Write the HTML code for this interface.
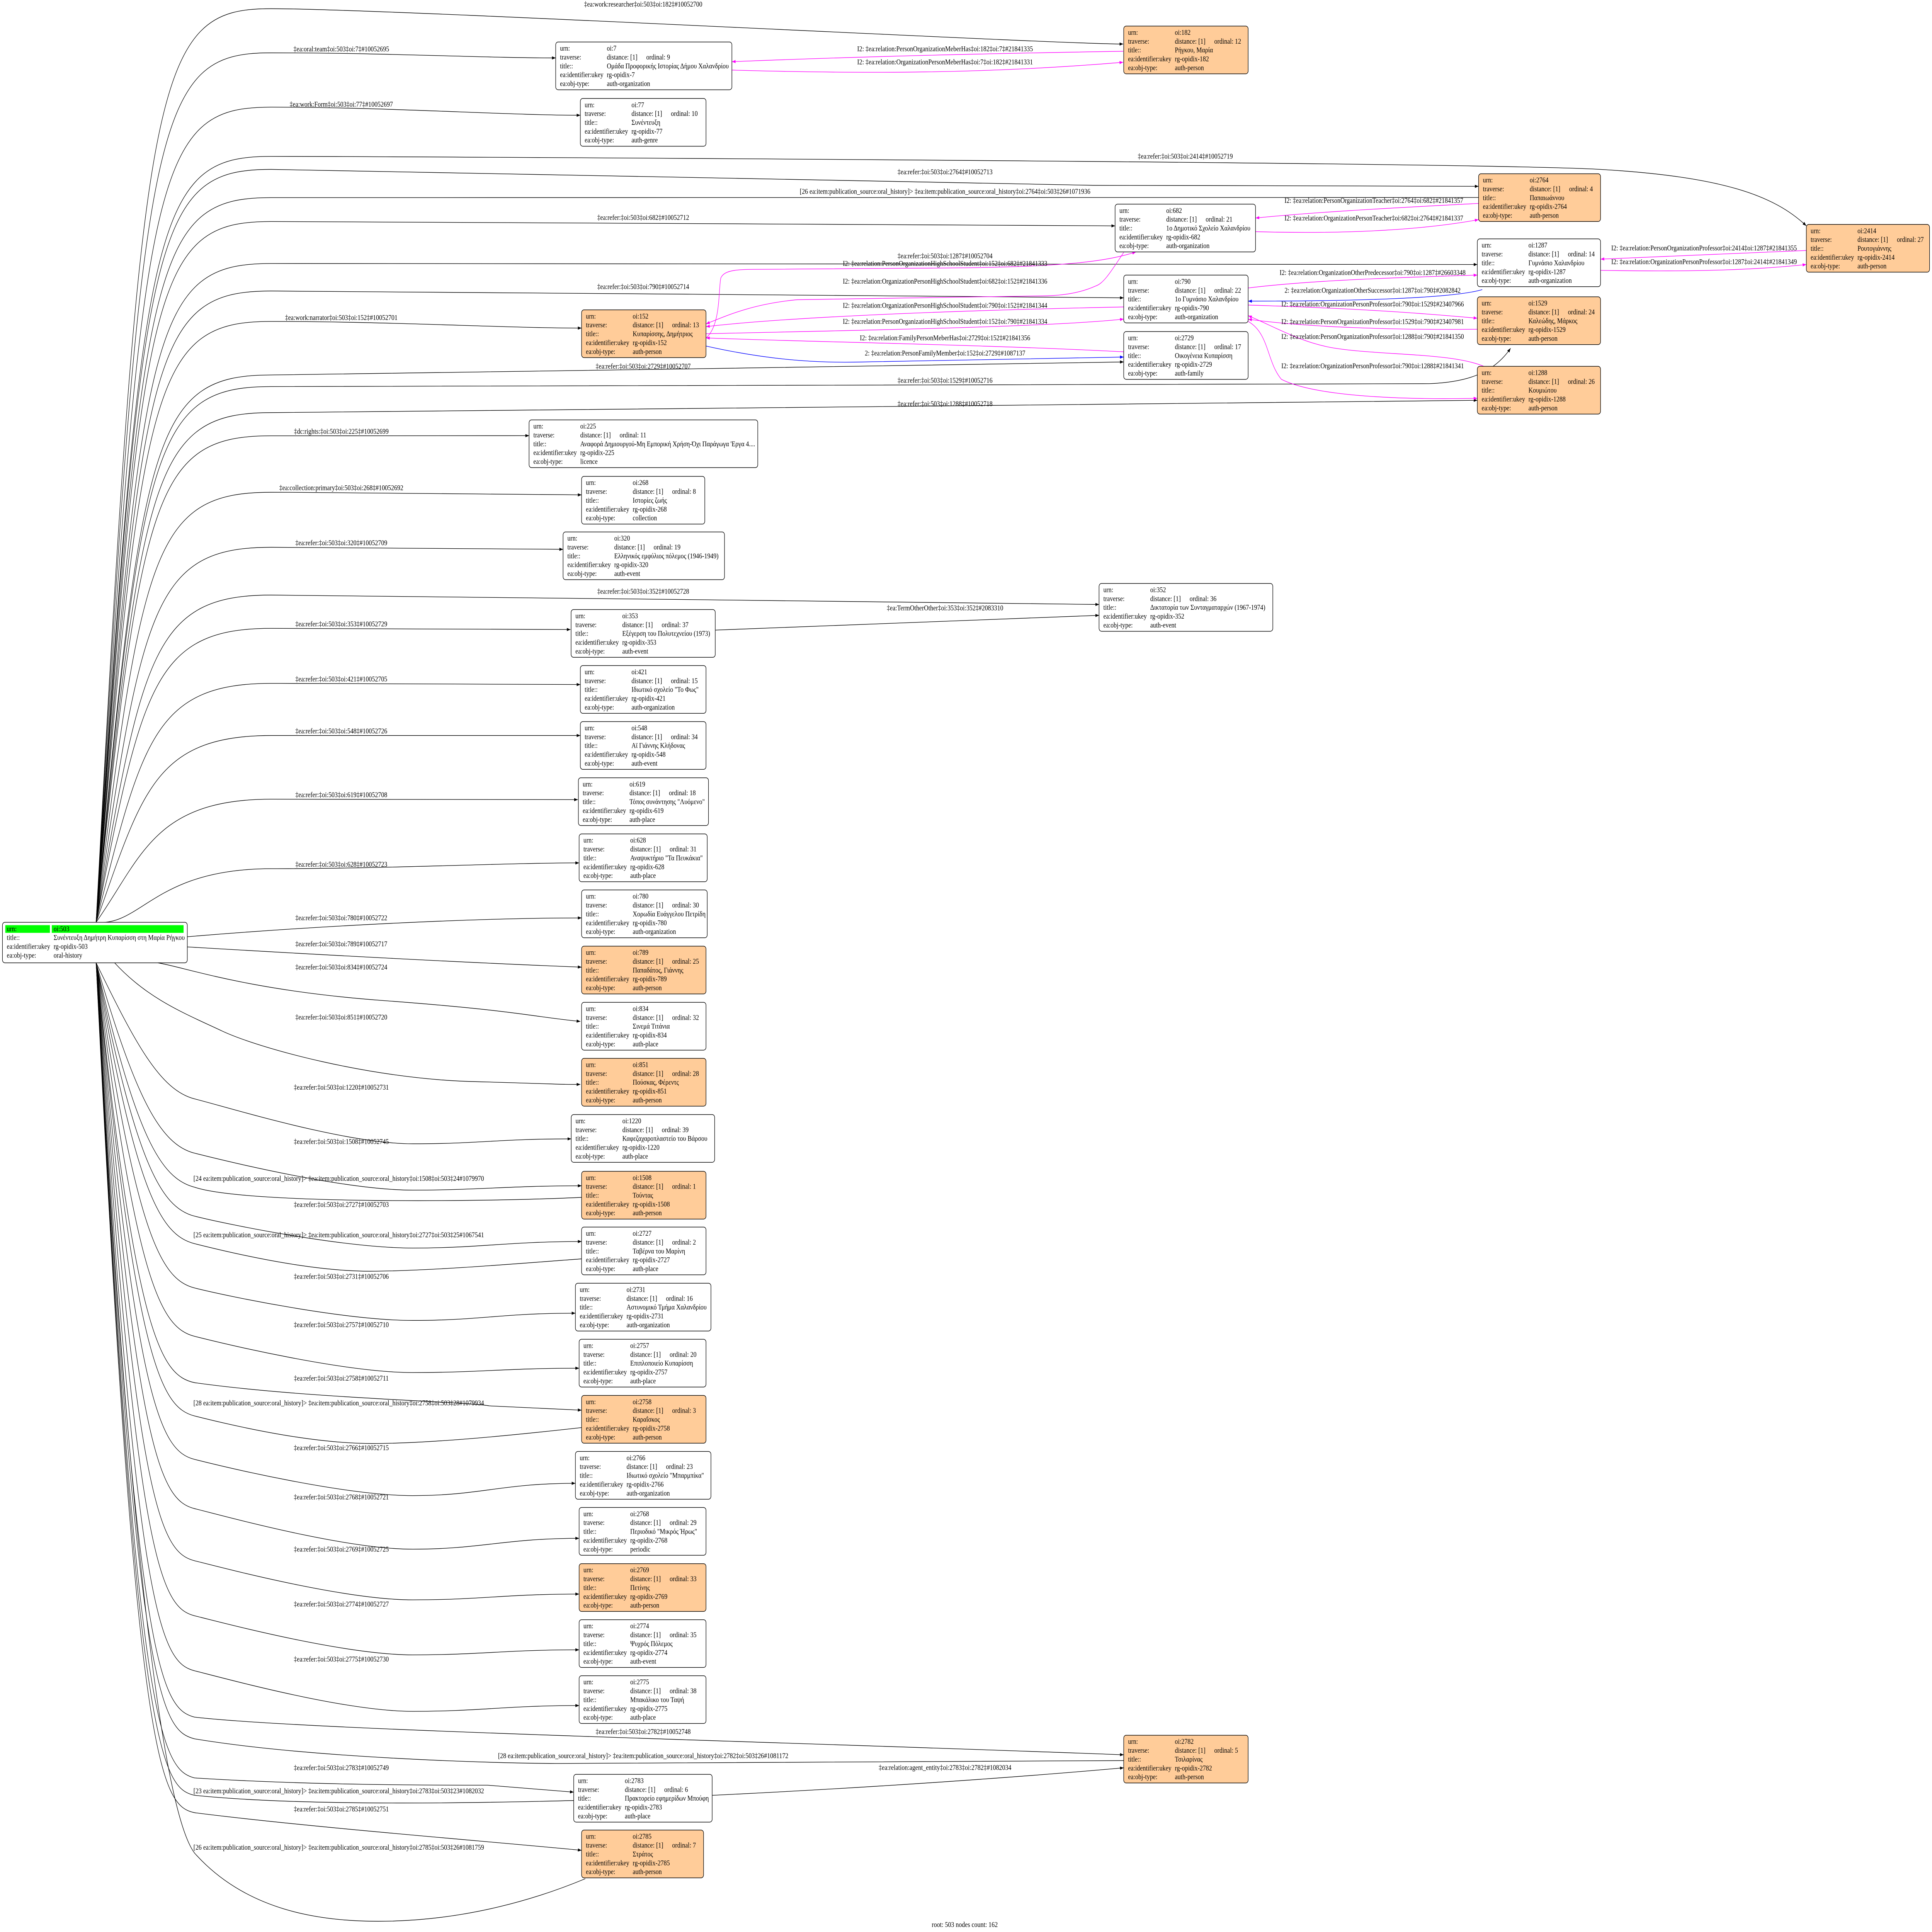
<!DOCTYPE html>
<html><head><meta charset="utf-8"><style>
html,body{margin:0;padding:0;background:#fff;overflow:hidden;width:100vw;height:100vh}
svg{display:block;width:100vw;height:100vh}
text{font-family:"Liberation Serif","DejaVu Serif",serif;font-size:5px;fill:#000}
.w{fill:#fff;stroke:#000;stroke-width:.4}
.o{fill:#ffcc99;stroke:#000;stroke-width:.4}
.e{fill:none;stroke:#000;stroke-width:.38}
.m{fill:none;stroke:#ff00ff;stroke-width:.38}
.b{fill:none;stroke:#0000ff;stroke-width:.38}
.c{text-anchor:middle}
</style></head><body>
<svg viewBox="0 0 1568 1334.4" preserveAspectRatio="none" xmlns="http://www.w3.org/2000/svg">
<defs>
<marker id="ab" markerUnits="userSpaceOnUse" markerWidth="3" markerHeight="2.2" refX="3" refY="1.1" orient="auto"><path d="M0,0L3,1.1L0,2.2z" fill="#000"/></marker>
<marker id="am" markerUnits="userSpaceOnUse" markerWidth="3" markerHeight="2.2" refX="3" refY="1.1" orient="auto"><path d="M0,0L3,1.1L0,2.2z" fill="#ff00ff"/></marker>
<marker id="al" markerUnits="userSpaceOnUse" markerWidth="3" markerHeight="2.2" refX="3" refY="1.1" orient="auto"><path d="M0,0L3,1.1L0,2.2z" fill="#0000ff"/></marker>
</defs>
<rect width="1568" height="1334.4" fill="#fff"/>

<g class="e" marker-end="url(#ab)">
<path class="e" d="M78,637 C115,46 125,6 220,6 S852,30.4 911.6,30.4"/>
<path class="e" d="M78,637 C115,76.5 125,36.5 220,36.5 S391,40 451,40"/>
<path class="e" d="M78,637 C115,114 125,74 220,74 S411,79.6 471,79.6"/>
<path class="e" d="M78,637 C115,148 125,108 220,108 S1200,112 1299,117 S1440,135 1466,156"/>
<path class="e" d="M78,637 C115,157 125,117 220,117 S800,128 887,128 S1150,128.7 1200,128.7"/>
<path class="e" d="M78,637 C115,193 125,153 220,153 S845,156 905,156"/>
<path class="e" d="M78,637 C115,222 125,182 220,182 S1139,182.7 1199,182.7"/>
<path class="e" d="M78,637 C115,241 125,201 220,201 S852,205.7 912,205.7"/>
<path class="e" d="M78,637 C115,262 125,222 220,222 S412,226.6 472,226.6"/>
<path class="e" d="M78,637 C115,299 125,259 220,259 S852,250 912,250"/>
<path class="e" d="M78,637 C115,307 125,267 220,267 L1160,265 C1190,264 1212,258 1226,240.5"/>
<path class="e" d="M78,637 C115,325 125,285 220,285 S1139,276.5 1199,276.5"/>
<path class="e" d="M78,637 C115,341 125,301 220,301 S370,300.9 429.4,300.9"/>
<path class="e" d="M78,637 C115,380 125,340 220,340 S412,341.8 472,341.8"/>
<path class="e" d="M78,637 C115,418 125,378 220,378 S397,379.4 457,379.4"/>
<path class="e" d="M78,637 C115,451 125,411 220,411 S832,417.5 892,417.5"/>
<path class="e" d="M78,637 C115,474 125,434 220,434 S403,434.8 463,434.8"/>
<path class="e" d="M78,637 C115,512 125,472 220,472 S411,472.8 471,472.8"/>
<path class="e" d="M78,637 C115,548 125,508 220,508 S411,508 471,508"/>
<path class="e" d="M78,637 C115,592 125,552 220,552 S409,552.3 469,552.3"/>
<path class="e" d="M78,637 C115,640 125,600 220,600 S410,596 470,596"/>
<path class="e" d="M152,647 C250,640 380,634 472,634"/>
<path class="e" d="M152,654 C250,659 380,665 472,668"/>
<path class="e" d="M128,665 C150,668 200,684 310,691 S430,702 471,705.5"/>
<path class="e" d="M93,665 C120,690 150,700 180,712 S300,745 383,747 S450,749 471,749"/>
<path class="e" d="M78,665 C110,721 130,753 158,759 S280,790 335,790 S404,786.6 463.6,786.6"/>
<path class="e" d="M78,665 C110,758.5 130,790.5 158,796.5 S280,822 335,822 S412,819 472,819"/>
<path class="e" d="M78,665 C110,802 130,834 158,840 S280,862 335,862 S412,857.5 472,857.5"/>
<path class="e" d="M78,665 C110,851.6 130,883.6 158,889.6 S280,912 335,912 S407,907 467,907"/>
<path class="e" d="M78,665 C110,885 130,917 158,923 S280,948 335,948 S410,945 470,945"/>
<path class="e" d="M78,665 C110,922 130,950 158,955 C250,966 380,968 397,971 L472,974"/>
<path class="e" d="M78,665 C110,970 130,1002 158,1008 S280,1033 335,1033 S407,1024.5 467,1024.5"/>
<path class="e" d="M78,665 C110,1004 130,1036 158,1042 S280,1070 335,1070 S410,1062.5 470,1062.5"/>
<path class="e" d="M78,665 C110,1040 130,1072 158,1078 S280,1105 335,1105 S410,1101 470,1101"/>
<path class="e" d="M78,665 C110,1078 130,1110 158,1116 S280,1143 335,1143 S410,1139.5 470,1139.5"/>
<path class="e" d="M78,665 C110,1116 130,1148 158,1154 S280,1182 335,1182 S410,1178 470,1178"/>
<path class="e" d="M78,665 C110,1150 130,1180 158,1186 C250,1195 600,1202 912,1212"/>
<path class="e" d="M78,665 C110,1190 130,1222 158,1228 C250,1233 350,1233 395.7,1233 L465.6,1237.8"/>
<path class="e" d="M78,665 C110,1220 130,1247 158,1252 C250,1262 400,1272 472,1278"/>
<path class="e" d="M580.7,435.2 C700,432 800,428 892,425"/>
<path class="e" d="M578,1240 C700,1235 820,1228 912,1221"/>
</g>
<path class="e" d="M78,637 C115,176.5 125,136.5 220,136.5 L1200,136.4"/>
<path class="e" d="M78,665 C110,784 130,814 158,820 C200,832 400,830 472,827"/>
<path class="e" d="M78,665 C110,823 130,853 158,859 S250,878 300,878 S430,872 472,869.5"/>
<path class="e" d="M78,665 C110,939 130,972 158,978 S250,997 302,997 S430,990 472,986"/>
<path class="e" d="M78,665 C110,1170 130,1195 158,1201 C250,1214 400,1218 455,1218 L912,1216"/>
<path class="e" d="M78,665 C110,1205 130,1235 158,1240 C250,1248 400,1245 465.6,1243.6"/>
<path class="e" d="M78,665 C110,1150 140,1260 158,1280 C200,1320 260,1327 307,1327 C380,1327 440,1310 475,1297.6"/>

<g marker-end="url(#am)">
<path class="m" d="M911.6,35.4 C800,37 700,39 594,42.6"/>
<path class="m" d="M594,48.4 C700,51 800,51 911.6,43"/>
<path class="m" d="M1200,140.5 C1120,144 1060,147 1019,150.6"/>
<path class="m" d="M1019,160 C1100,162 1160,158 1200,151.7"/>
<path class="m" d="M573,233.4 C585,225 583,200 585,192 C588,186 600,186 620,186 L782,185 C870,184 900,180 922,174"/>
<path class="m" d="M912,174.3 C900,190 895,196 889,197.6 C875,203 860,204 850,204.3 L647,207 C610,210 590,218 573,223.7"/>
<path class="m" d="M912,212 C800,214 650,218 573,225.6"/>
<path class="m" d="M573,230.5 C700,228 850,226 912,220.4"/>
<path class="m" d="M912,243 C800,238 650,236 573,233.4"/>
<path class="m" d="M1466,173 C1400,175 1340,177 1299,179"/>
<path class="m" d="M1299,186.7 C1380,188 1430,186 1466,182.7"/>
<path class="m" d="M1013,198.9 C1060,194 1120,192 1199,190"/>
<path class="m" d="M1013,210.7 C1100,213 1150,216 1199,219.8"/>
<path class="m" d="M1199,227.4 C1130,228 1060,226 1013,220.5"/>
<path class="m" d="M1209,255 C1185,243 1120,246 1080,240 C1055,236 1035,226 1013,218"/>
<path class="m" d="M1013,222 C1030,230 1028,250 1040,262 C1070,275 1150,276 1199,275.1"/>
</g>
<g marker-end="url(#al)">
<path class="b" d="M573,239 C620,248 660,251 700,250 C800,248 860,247 912,246.6"/>
<path class="b" d="M1203,200 C1180,206 1100,208 1013,208"/>
</g>

<g>
<text class="c" x="522" y="4.5">‡ea:work:researcher‡oi:503‡oi:182‡#10052700</text>
<text class="c" x="277" y="35.5">‡ea:oral:team‡oi:503‡oi:7‡#10052695</text>
<text class="c" x="277" y="73.6">‡ea:work:Form‡oi:503‡oi:77‡#10052697</text>
<text class="c" x="962" y="109.5">‡ea:refer:‡oi:503‡oi:2414‡#10052719</text>
<text class="c" x="767" y="120.3">‡ea:refer:‡oi:503‡oi:2764‡#10052713</text>
<text class="c" x="767" y="133.9">[26 ea:item:publication_source:oral_history]&gt; ‡ea:item:publication_source:oral_history‡oi:2764‡oi:503‡26#1071936</text>
<text class="c" x="522" y="151.9">‡ea:refer:‡oi:503‡oi:682‡#10052712</text>
<text class="c" x="767" y="178.4">‡ea:refer:‡oi:503‡oi:1287‡#10052704</text>
<text class="c" x="522" y="199.6">‡ea:refer:‡oi:503‡oi:790‡#10052714</text>
<text class="c" x="277" y="221">‡ea:work:narrator‡oi:503‡oi:152‡#10052701</text>
<text class="c" x="522" y="254.6">‡ea:refer:‡oi:503‡oi:2729‡#10052707</text>
<text class="c" x="767" y="264.4">‡ea:refer:‡oi:503‡oi:1529‡#10052716</text>
<text class="c" x="767" y="280.5">‡ea:refer:‡oi:503‡oi:1288‡#10052718</text>
<text class="c" x="277" y="299.6">‡dc:rights:‡oi:503‡oi:225‡#10052699</text>
<text class="c" x="277" y="338.6">‡ea:collection:primary‡oi:503‡oi:268‡#10052692</text>
<text class="c" x="277" y="376.6">‡ea:refer:‡oi:503‡oi:320‡#10052709</text>
<text class="c" x="522" y="410">‡ea:refer:‡oi:503‡oi:352‡#10052728</text>
<text class="c" x="767" y="421.6">‡ea:TermOtherOther‡oi:353‡oi:352‡#2083310</text>
<text class="c" x="277" y="432.6">‡ea:refer:‡oi:503‡oi:353‡#10052729</text>
<text class="c" x="277" y="470.6">‡ea:refer:‡oi:503‡oi:421‡#10052705</text>
<text class="c" x="277" y="506.6">‡ea:refer:‡oi:503‡oi:548‡#10052726</text>
<text class="c" x="277" y="550.6">‡ea:refer:‡oi:503‡oi:619‡#10052708</text>
<text class="c" x="277" y="598.6">‡ea:refer:‡oi:503‡oi:628‡#10052723</text>
<text class="c" x="277" y="635.6">‡ea:refer:‡oi:503‡oi:780‡#10052722</text>
<text class="c" x="277" y="653.6">‡ea:refer:‡oi:503‡oi:789‡#10052717</text>
<text class="c" x="277" y="669.6">‡ea:refer:‡oi:503‡oi:834‡#10052724</text>
<text class="c" x="277" y="704.2">‡ea:refer:‡oi:503‡oi:851‡#10052720</text>
<text class="c" x="277" y="752.6">‡ea:refer:‡oi:503‡oi:1220‡#10052731</text>
<text class="c" x="277" y="790.1">‡ea:refer:‡oi:503‡oi:1508‡#10052745</text>
<text x="157" y="815.6">[24 ea:item:publication_source:oral_history]&gt; ‡ea:item:publication_source:oral_history‡oi:1508‡oi:503‡24#1079970</text>
<text class="c" x="277" y="833.6">‡ea:refer:‡oi:503‡oi:2727‡#10052703</text>
<text x="157" y="854.6">[25 ea:item:publication_source:oral_history]&gt; ‡ea:item:publication_source:oral_history‡oi:2727‡oi:503‡25#1067541</text>
<text class="c" x="277" y="883.2">‡ea:refer:‡oi:503‡oi:2731‡#10052706</text>
<text class="c" x="277" y="916.6">‡ea:refer:‡oi:503‡oi:2757‡#10052710</text>
<text class="c" x="277" y="953.6">‡ea:refer:‡oi:503‡oi:2758‡#10052711</text>
<text x="157" y="970.6">[28 ea:item:publication_source:oral_history]&gt; ‡ea:item:publication_source:oral_history‡oi:2758‡oi:503‡28#1079934</text>
<text class="c" x="277" y="1001.6">‡ea:refer:‡oi:503‡oi:2766‡#10052715</text>
<text class="c" x="277" y="1035.6">‡ea:refer:‡oi:503‡oi:2768‡#10052721</text>
<text class="c" x="277" y="1071.6">‡ea:refer:‡oi:503‡oi:2769‡#10052725</text>
<text class="c" x="277" y="1109.6">‡ea:refer:‡oi:503‡oi:2774‡#10052727</text>
<text class="c" x="277" y="1147.6">‡ea:refer:‡oi:503‡oi:2775‡#10052730</text>
<text class="c" x="522" y="1197.6">‡ea:refer:‡oi:503‡oi:2782‡#10052748</text>
<text class="c" x="522" y="1214.3">[28 ea:item:publication_source:oral_history]&gt; ‡ea:item:publication_source:oral_history‡oi:2782‡oi:503‡26#1081172</text>
<text class="c" x="767" y="1222.4">‡ea:relation:agent_entity‡oi:2783‡oi:2782‡#1082034</text>
<text class="c" x="277" y="1222.6">‡ea:refer:‡oi:503‡oi:2783‡#10052749</text>
<text x="157" y="1238.6">[23 ea:item:publication_source:oral_history]&gt; ‡ea:item:publication_source:oral_history‡oi:2783‡oi:503‡23#1082032</text>
<text class="c" x="277" y="1251.1">‡ea:refer:‡oi:503‡oi:2785‡#10052751</text>
<text x="157" y="1277.6">[26 ea:item:publication_source:oral_history]&gt; ‡ea:item:publication_source:oral_history‡oi:2785‡oi:503‡26#1081759</text>

<text class="c" x="767" y="35.3">I2: ‡ea:relation:PersonOrganizationMeberHas‡oi:182‡oi:7‡#21841335</text>
<text class="c" x="767" y="44.4">I2: ‡ea:relation:OrganizationPersonMeberHas‡oi:7‡oi:182‡#21841331</text>
<text class="c" x="1115" y="140.1">I2: ‡ea:relation:PersonOrganizationTeacher‡oi:2764‡oi:682‡#21841357</text>
<text class="c" x="1115" y="152.2">I2: ‡ea:relation:OrganizationPersonTeacher‡oi:682‡oi:2764‡#21841337</text>
<text class="c" x="767" y="183.6">I2: ‡ea:relation:PersonOrganizationHighSchoolStudent‡oi:152‡oi:682‡#21841333</text>
<text class="c" x="767" y="195.9">I2: ‡ea:relation:OrganizationPersonHighSchoolStudent‡oi:682‡oi:152‡#21841336</text>
<text class="c" x="767" y="212.6">I2: ‡ea:relation:OrganizationPersonHighSchoolStudent‡oi:790‡oi:152‡#21841344</text>
<text class="c" x="767" y="223.6">I2: ‡ea:relation:PersonOrganizationHighSchoolStudent‡oi:152‡oi:790‡#21841334</text>
<text class="c" x="767" y="235">I2: ‡ea:relation:FamilyPersonMeberHas‡oi:2729‡oi:152‡#21841356</text>
<text class="c" x="767" y="245.6">2: ‡ea:relation:PersonFamilyMember‡oi:152‡oi:2729‡#1087137</text>
<text class="c" x="1383" y="173">I2: ‡ea:relation:PersonOrganizationProfessor‡oi:2414‡oi:1287‡#21841355</text>
<text class="c" x="1383" y="182.4">I2: ‡ea:relation:OrganizationPersonProfessor‡oi:1287‡oi:2414‡#21841349</text>
<text class="c" x="1114" y="189.9">I2: ‡ea:relation:OrganizationOtherPredecessor‡oi:790‡oi:1287‡#26603348</text>
<text class="c" x="1114" y="202.1">2: ‡ea:relation:OrganizationOtherSuccessor‡oi:1287‡oi:790‡#2082842</text>
<text class="c" x="1114" y="211.7">I2: ‡ea:relation:OrganizationPersonProfessor‡oi:790‡oi:1529‡#23407966</text>
<text class="c" x="1114" y="223.8">I2: ‡ea:relation:PersonOrganizationProfessor‡oi:1529‡oi:790‡#23407981</text>
<text class="c" x="1114" y="234.1">I2: ‡ea:relation:PersonOrganizationProfessor‡oi:1288‡oi:790‡#21841350</text>
<text class="c" x="1114" y="254.3">I2: ‡ea:relation:OrganizationPersonProfessor‡oi:790‡oi:1288‡#21841341</text>
</g>

<g transform="translate(2,637)">
<rect width="150" height="28" rx="2" class="w"/>
<rect x="2.3" y="2" width="36.2" height="5.3" fill="#00ff00"/>
<rect x="40" y="2" width="107" height="5.3" fill="#00ff00"/>
<text><tspan x="3.5" y="6.2">urn:</tspan><tspan x="41.5">oi:503</tspan><tspan x="3.5" y="12.2">title::</tspan><tspan x="41.5">Συνέντευξη Δημήτρη Κυπαρίσση στη Μαρία Ρήγκου</tspan><tspan x="3.5" y="18.3">ea:identifier:ukey</tspan><tspan x="41.5">rg-opidix-503</tspan><tspan x="3.5" y="24.4">ea:obj-type:</tspan><tspan x="41.5">oral-history</tspan></text>
</g>

<g transform="translate(451,29)"><rect width="143" height="33" rx="2" class="w"/><text><tspan x="3.5" y="6">urn:</tspan><tspan x="41.5">oi:7</tspan><tspan x="3.5" y="12.1">traverse:</tspan><tspan x="41.5">distance: [1]</tspan><tspan x="73.5">ordinal: 9</tspan><tspan x="3.5" y="18.2">title::</tspan><tspan x="41.5">Ομάδα Προφορικής Ιστορίας Δήμου Χαλανδρίου</tspan><tspan x="3.5" y="24.3">ea:identifier:ukey</tspan><tspan x="41.5">rg-opidix-7</tspan><tspan x="3.5" y="30.4">ea:obj-type:</tspan><tspan x="41.5">auth-organization</tspan></text></g>

<g transform="translate(912,18)"><rect width="101" height="33" rx="2" class="o"/><text><tspan x="3.5" y="6">urn:</tspan><tspan x="41.5">oi:182</tspan><tspan x="3.5" y="12.1">traverse:</tspan><tspan x="41.5">distance: [1]</tspan><tspan x="73.5">ordinal: 12</tspan><tspan x="3.5" y="18.2">title::</tspan><tspan x="41.5">Ρήγκου, Μαρία</tspan><tspan x="3.5" y="24.3">ea:identifier:ukey</tspan><tspan x="41.5">rg-opidix-182</tspan><tspan x="3.5" y="30.4">ea:obj-type:</tspan><tspan x="41.5">auth-person</tspan></text></g>

<g transform="translate(471,68)"><rect width="102" height="33" rx="2" class="w"/><text><tspan x="3.5" y="6">urn:</tspan><tspan x="41.5">oi:77</tspan><tspan x="3.5" y="12.1">traverse:</tspan><tspan x="41.5">distance: [1]</tspan><tspan x="73.5">ordinal: 10</tspan><tspan x="3.5" y="18.2">title::</tspan><tspan x="41.5">Συνέντευξη</tspan><tspan x="3.5" y="24.3">ea:identifier:ukey</tspan><tspan x="41.5">rg-opidix-77</tspan><tspan x="3.5" y="30.4">ea:obj-type:</tspan><tspan x="41.5">auth-genre</tspan></text></g>

<g transform="translate(1200,120)"><rect width="99" height="33" rx="2" class="o"/><text><tspan x="3.5" y="6">urn:</tspan><tspan x="41.5">oi:2764</tspan><tspan x="3.5" y="12.1">traverse:</tspan><tspan x="41.5">distance: [1]</tspan><tspan x="73.5">ordinal: 4</tspan><tspan x="3.5" y="18.2">title::</tspan><tspan x="41.5">Παπαιωάννου</tspan><tspan x="3.5" y="24.3">ea:identifier:ukey</tspan><tspan x="41.5">rg-opidix-2764</tspan><tspan x="3.5" y="30.4">ea:obj-type:</tspan><tspan x="41.5">auth-person</tspan></text></g>

<g transform="translate(905,141)"><rect width="114" height="33" rx="2" class="w"/><text><tspan x="3.5" y="6">urn:</tspan><tspan x="41.5">oi:682</tspan><tspan x="3.5" y="12.1">traverse:</tspan><tspan x="41.5">distance: [1]</tspan><tspan x="73.5">ordinal: 21</tspan><tspan x="3.5" y="18.2">title::</tspan><tspan x="41.5">1ο Δημοτικό Σχολείο Χαλανδρίου</tspan><tspan x="3.5" y="24.3">ea:identifier:ukey</tspan><tspan x="41.5">rg-opidix-682</tspan><tspan x="3.5" y="30.4">ea:obj-type:</tspan><tspan x="41.5">auth-organization</tspan></text></g>

<g transform="translate(1199,165)"><rect width="100" height="33" rx="2" class="w"/><text><tspan x="3.5" y="6">urn:</tspan><tspan x="41.5">oi:1287</tspan><tspan x="3.5" y="12.1">traverse:</tspan><tspan x="41.5">distance: [1]</tspan><tspan x="73.5">ordinal: 14</tspan><tspan x="3.5" y="18.2">title::</tspan><tspan x="41.5">Γυμνάσιο Χαλανδρίου</tspan><tspan x="3.5" y="24.3">ea:identifier:ukey</tspan><tspan x="41.5">rg-opidix-1287</tspan><tspan x="3.5" y="30.4">ea:obj-type:</tspan><tspan x="41.5">auth-organization</tspan></text></g>

<g transform="translate(1466,155)"><rect width="100" height="33" rx="2" class="o"/><text><tspan x="3.5" y="6">urn:</tspan><tspan x="41.5">oi:2414</tspan><tspan x="3.5" y="12.1">traverse:</tspan><tspan x="41.5">distance: [1]</tspan><tspan x="73.5">ordinal: 27</tspan><tspan x="3.5" y="18.2">title::</tspan><tspan x="41.5">Ρουτογιάννης</tspan><tspan x="3.5" y="24.3">ea:identifier:ukey</tspan><tspan x="41.5">rg-opidix-2414</tspan><tspan x="3.5" y="30.4">ea:obj-type:</tspan><tspan x="41.5">auth-person</tspan></text></g>

<g transform="translate(912,190)"><rect width="101" height="33" rx="2" class="w"/><text><tspan x="3.5" y="6">urn:</tspan><tspan x="41.5">oi:790</tspan><tspan x="3.5" y="12.1">traverse:</tspan><tspan x="41.5">distance: [1]</tspan><tspan x="73.5">ordinal: 22</tspan><tspan x="3.5" y="18.2">title::</tspan><tspan x="41.5">1ο Γυμνάσιο Χαλανδρίου</tspan><tspan x="3.5" y="24.3">ea:identifier:ukey</tspan><tspan x="41.5">rg-opidix-790</tspan><tspan x="3.5" y="30.4">ea:obj-type:</tspan><tspan x="41.5">auth-organization</tspan></text></g>

<g transform="translate(472,214)"><rect width="101" height="33" rx="2" class="o"/><text><tspan x="3.5" y="6">urn:</tspan><tspan x="41.5">oi:152</tspan><tspan x="3.5" y="12.1">traverse:</tspan><tspan x="41.5">distance: [1]</tspan><tspan x="73.5">ordinal: 13</tspan><tspan x="3.5" y="18.2">title::</tspan><tspan x="41.5">Κυπαρίσσης, Δημήτριος</tspan><tspan x="3.5" y="24.3">ea:identifier:ukey</tspan><tspan x="41.5">rg-opidix-152</tspan><tspan x="3.5" y="30.4">ea:obj-type:</tspan><tspan x="41.5">auth-person</tspan></text></g>

<g transform="translate(1199,205)"><rect width="100" height="33" rx="2" class="o"/><text><tspan x="3.5" y="6">urn:</tspan><tspan x="41.5">oi:1529</tspan><tspan x="3.5" y="12.1">traverse:</tspan><tspan x="41.5">distance: [1]</tspan><tspan x="73.5">ordinal: 24</tspan><tspan x="3.5" y="18.2">title::</tspan><tspan x="41.5">Καλεώδης, Μάρκος</tspan><tspan x="3.5" y="24.3">ea:identifier:ukey</tspan><tspan x="41.5">rg-opidix-1529</tspan><tspan x="3.5" y="30.4">ea:obj-type:</tspan><tspan x="41.5">auth-person</tspan></text></g>

<g transform="translate(912,229)"><rect width="101" height="33" rx="2" class="w"/><text><tspan x="3.5" y="6">urn:</tspan><tspan x="41.5">oi:2729</tspan><tspan x="3.5" y="12.1">traverse:</tspan><tspan x="41.5">distance: [1]</tspan><tspan x="73.5">ordinal: 17</tspan><tspan x="3.5" y="18.2">title::</tspan><tspan x="41.5">Οικογένεια Κυπαρίσση</tspan><tspan x="3.5" y="24.3">ea:identifier:ukey</tspan><tspan x="41.5">rg-opidix-2729</tspan><tspan x="3.5" y="30.4">ea:obj-type:</tspan><tspan x="41.5">auth-family</tspan></text></g>

<g transform="translate(1199,253)"><rect width="100" height="33" rx="2" class="o"/><text><tspan x="3.5" y="6">urn:</tspan><tspan x="41.5">oi:1288</tspan><tspan x="3.5" y="12.1">traverse:</tspan><tspan x="41.5">distance: [1]</tspan><tspan x="73.5">ordinal: 26</tspan><tspan x="3.5" y="18.2">title::</tspan><tspan x="41.5">Κουμιώτου</tspan><tspan x="3.5" y="24.3">ea:identifier:ukey</tspan><tspan x="41.5">rg-opidix-1288</tspan><tspan x="3.5" y="30.4">ea:obj-type:</tspan><tspan x="41.5">auth-person</tspan></text></g>

<g transform="translate(429.4,290)"><rect width="185.6" height="33" rx="2" class="w"/><text><tspan x="3.5" y="6">urn:</tspan><tspan x="41.5">oi:225</tspan><tspan x="3.5" y="12.1">traverse:</tspan><tspan x="41.5">distance: [1]</tspan><tspan x="73.5">ordinal: 11</tspan><tspan x="3.5" y="18.2">title::</tspan><tspan x="41.5">Αναφορά Δημιουργού-Μη Εμπορική Χρήση-Όχι Παράγωγα 'Εργα 4....</tspan><tspan x="3.5" y="24.3">ea:identifier:ukey</tspan><tspan x="41.5">rg-opidix-225</tspan><tspan x="3.5" y="30.4">ea:obj-type:</tspan><tspan x="41.5">licence</tspan></text></g>

<g transform="translate(472,329)"><rect width="100" height="33" rx="2" class="w"/><text><tspan x="3.5" y="6">urn:</tspan><tspan x="41.5">oi:268</tspan><tspan x="3.5" y="12.1">traverse:</tspan><tspan x="41.5">distance: [1]</tspan><tspan x="73.5">ordinal: 8</tspan><tspan x="3.5" y="18.2">title::</tspan><tspan x="41.5">Ιστορίες ζωής</tspan><tspan x="3.5" y="24.3">ea:identifier:ukey</tspan><tspan x="41.5">rg-opidix-268</tspan><tspan x="3.5" y="30.4">ea:obj-type:</tspan><tspan x="41.5">collection</tspan></text></g>

<g transform="translate(457,367.4)"><rect width="131" height="33" rx="2" class="w"/><text><tspan x="3.5" y="6">urn:</tspan><tspan x="41.5">oi:320</tspan><tspan x="3.5" y="12.1">traverse:</tspan><tspan x="41.5">distance: [1]</tspan><tspan x="73.5">ordinal: 19</tspan><tspan x="3.5" y="18.2">title::</tspan><tspan x="41.5">Ελληνικός εμφύλιος πόλεμος (1946-1949)</tspan><tspan x="3.5" y="24.3">ea:identifier:ukey</tspan><tspan x="41.5">rg-opidix-320</tspan><tspan x="3.5" y="30.4">ea:obj-type:</tspan><tspan x="41.5">auth-event</tspan></text></g>

<g transform="translate(892,403)"><rect width="141" height="33" rx="2" class="w"/><text><tspan x="3.5" y="6">urn:</tspan><tspan x="41.5">oi:352</tspan><tspan x="3.5" y="12.1">traverse:</tspan><tspan x="41.5">distance: [1]</tspan><tspan x="73.5">ordinal: 36</tspan><tspan x="3.5" y="18.2">title::</tspan><tspan x="41.5">Δικτατορία των Συνταγματαρχών (1967-1974)</tspan><tspan x="3.5" y="24.3">ea:identifier:ukey</tspan><tspan x="41.5">rg-opidix-352</tspan><tspan x="3.5" y="30.4">ea:obj-type:</tspan><tspan x="41.5">auth-event</tspan></text></g>

<g transform="translate(463.5,421)"><rect width="117" height="33" rx="2" class="w"/><text><tspan x="3.5" y="6">urn:</tspan><tspan x="41.5">oi:353</tspan><tspan x="3.5" y="12.1">traverse:</tspan><tspan x="41.5">distance: [1]</tspan><tspan x="73.5">ordinal: 37</tspan><tspan x="3.5" y="18.2">title::</tspan><tspan x="41.5">Εξέγερση του Πολυτεχνείου (1973)</tspan><tspan x="3.5" y="24.3">ea:identifier:ukey</tspan><tspan x="41.5">rg-opidix-353</tspan><tspan x="3.5" y="30.4">ea:obj-type:</tspan><tspan x="41.5">auth-event</tspan></text></g>

<g transform="translate(471,459.7)"><rect width="102" height="33" rx="2" class="w"/><text><tspan x="3.5" y="6">urn:</tspan><tspan x="41.5">oi:421</tspan><tspan x="3.5" y="12.1">traverse:</tspan><tspan x="41.5">distance: [1]</tspan><tspan x="73.5">ordinal: 15</tspan><tspan x="3.5" y="18.2">title::</tspan><tspan x="41.5">Ιδιωτικό σχολείο "Το Φως"</tspan><tspan x="3.5" y="24.3">ea:identifier:ukey</tspan><tspan x="41.5">rg-opidix-421</tspan><tspan x="3.5" y="30.4">ea:obj-type:</tspan><tspan x="41.5">auth-organization</tspan></text></g>

<g transform="translate(471,498.4)"><rect width="102" height="33" rx="2" class="w"/><text><tspan x="3.5" y="6">urn:</tspan><tspan x="41.5">oi:548</tspan><tspan x="3.5" y="12.1">traverse:</tspan><tspan x="41.5">distance: [1]</tspan><tspan x="73.5">ordinal: 34</tspan><tspan x="3.5" y="18.2">title::</tspan><tspan x="41.5">Αϊ Γιάννης Κλήδονας</tspan><tspan x="3.5" y="24.3">ea:identifier:ukey</tspan><tspan x="41.5">rg-opidix-548</tspan><tspan x="3.5" y="30.4">ea:obj-type:</tspan><tspan x="41.5">auth-event</tspan></text></g>

<g transform="translate(469.4,537.2)"><rect width="105.6" height="33" rx="2" class="w"/><text><tspan x="3.5" y="6">urn:</tspan><tspan x="41.5">oi:619</tspan><tspan x="3.5" y="12.1">traverse:</tspan><tspan x="41.5">distance: [1]</tspan><tspan x="73.5">ordinal: 18</tspan><tspan x="3.5" y="18.2">title::</tspan><tspan x="41.5">Τόπος συνάντησης "Λυόμενο"</tspan><tspan x="3.5" y="24.3">ea:identifier:ukey</tspan><tspan x="41.5">rg-opidix-619</tspan><tspan x="3.5" y="30.4">ea:obj-type:</tspan><tspan x="41.5">auth-place</tspan></text></g>

<g transform="translate(470,576)"><rect width="104" height="33" rx="2" class="w"/><text><tspan x="3.5" y="6">urn:</tspan><tspan x="41.5">oi:628</tspan><tspan x="3.5" y="12.1">traverse:</tspan><tspan x="41.5">distance: [1]</tspan><tspan x="73.5">ordinal: 31</tspan><tspan x="3.5" y="18.2">title::</tspan><tspan x="41.5">Αναψυκτήριο "Τα Πευκάκια"</tspan><tspan x="3.5" y="24.3">ea:identifier:ukey</tspan><tspan x="41.5">rg-opidix-628</tspan><tspan x="3.5" y="30.4">ea:obj-type:</tspan><tspan x="41.5">auth-place</tspan></text></g>

<g transform="translate(472,614.7)"><rect width="102" height="33" rx="2" class="w"/><text><tspan x="3.5" y="6">urn:</tspan><tspan x="41.5">oi:780</tspan><tspan x="3.5" y="12.1">traverse:</tspan><tspan x="41.5">distance: [1]</tspan><tspan x="73.5">ordinal: 30</tspan><tspan x="3.5" y="18.2">title::</tspan><tspan x="41.5">Χορωδία Ευάγγελου Πετρίδη</tspan><tspan x="3.5" y="24.3">ea:identifier:ukey</tspan><tspan x="41.5">rg-opidix-780</tspan><tspan x="3.5" y="30.4">ea:obj-type:</tspan><tspan x="41.5">auth-organization</tspan></text></g>

<g transform="translate(472,653.5)"><rect width="101" height="33" rx="2" class="o"/><text><tspan x="3.5" y="6">urn:</tspan><tspan x="41.5">oi:789</tspan><tspan x="3.5" y="12.1">traverse:</tspan><tspan x="41.5">distance: [1]</tspan><tspan x="73.5">ordinal: 25</tspan><tspan x="3.5" y="18.2">title::</tspan><tspan x="41.5">Παπαδάτος, Γιάννης</tspan><tspan x="3.5" y="24.3">ea:identifier:ukey</tspan><tspan x="41.5">rg-opidix-789</tspan><tspan x="3.5" y="30.4">ea:obj-type:</tspan><tspan x="41.5">auth-person</tspan></text></g>

<g transform="translate(472,692.3)"><rect width="101" height="33" rx="2" class="w"/><text><tspan x="3.5" y="6">urn:</tspan><tspan x="41.5">oi:834</tspan><tspan x="3.5" y="12.1">traverse:</tspan><tspan x="41.5">distance: [1]</tspan><tspan x="73.5">ordinal: 32</tspan><tspan x="3.5" y="18.2">title::</tspan><tspan x="41.5">Σινεμά Τιτάνια</tspan><tspan x="3.5" y="24.3">ea:identifier:ukey</tspan><tspan x="41.5">rg-opidix-834</tspan><tspan x="3.5" y="30.4">ea:obj-type:</tspan><tspan x="41.5">auth-place</tspan></text></g>

<g transform="translate(472,731)"><rect width="101" height="33" rx="2" class="o"/><text><tspan x="3.5" y="6">urn:</tspan><tspan x="41.5">oi:851</tspan><tspan x="3.5" y="12.1">traverse:</tspan><tspan x="41.5">distance: [1]</tspan><tspan x="73.5">ordinal: 28</tspan><tspan x="3.5" y="18.2">title::</tspan><tspan x="41.5">Πούσκας, Φέρεντς</tspan><tspan x="3.5" y="24.3">ea:identifier:ukey</tspan><tspan x="41.5">rg-opidix-851</tspan><tspan x="3.5" y="30.4">ea:obj-type:</tspan><tspan x="41.5">auth-person</tspan></text></g>

<g transform="translate(463.6,769.8)"><rect width="116.4" height="33" rx="2" class="w"/><text><tspan x="3.5" y="6">urn:</tspan><tspan x="41.5">oi:1220</tspan><tspan x="3.5" y="12.1">traverse:</tspan><tspan x="41.5">distance: [1]</tspan><tspan x="73.5">ordinal: 39</tspan><tspan x="3.5" y="18.2">title::</tspan><tspan x="41.5">Καφεζαχαροπλαστείο του Βάρσου</tspan><tspan x="3.5" y="24.3">ea:identifier:ukey</tspan><tspan x="41.5">rg-opidix-1220</tspan><tspan x="3.5" y="30.4">ea:obj-type:</tspan><tspan x="41.5">auth-place</tspan></text></g>

<g transform="translate(472,809)"><rect width="101" height="33" rx="2" class="o"/><text><tspan x="3.5" y="6">urn:</tspan><tspan x="41.5">oi:1508</tspan><tspan x="3.5" y="12.1">traverse:</tspan><tspan x="41.5">distance: [1]</tspan><tspan x="73.5">ordinal: 1</tspan><tspan x="3.5" y="18.2">title::</tspan><tspan x="41.5">Τούντας</tspan><tspan x="3.5" y="24.3">ea:identifier:ukey</tspan><tspan x="41.5">rg-opidix-1508</tspan><tspan x="3.5" y="30.4">ea:obj-type:</tspan><tspan x="41.5">auth-person</tspan></text></g>

<g transform="translate(472,847.5)"><rect width="101" height="33" rx="2" class="w"/><text><tspan x="3.5" y="6">urn:</tspan><tspan x="41.5">oi:2727</tspan><tspan x="3.5" y="12.1">traverse:</tspan><tspan x="41.5">distance: [1]</tspan><tspan x="73.5">ordinal: 2</tspan><tspan x="3.5" y="18.2">title::</tspan><tspan x="41.5">Ταβέρνα του Μαρίνη</tspan><tspan x="3.5" y="24.3">ea:identifier:ukey</tspan><tspan x="41.5">rg-opidix-2727</tspan><tspan x="3.5" y="30.4">ea:obj-type:</tspan><tspan x="41.5">auth-place</tspan></text></g>

<g transform="translate(467,886.3)"><rect width="110" height="33" rx="2" class="w"/><text><tspan x="3.5" y="6">urn:</tspan><tspan x="41.5">oi:2731</tspan><tspan x="3.5" y="12.1">traverse:</tspan><tspan x="41.5">distance: [1]</tspan><tspan x="73.5">ordinal: 16</tspan><tspan x="3.5" y="18.2">title::</tspan><tspan x="41.5">Αστυνομικό Τμήμα Χαλανδρίου</tspan><tspan x="3.5" y="24.3">ea:identifier:ukey</tspan><tspan x="41.5">rg-opidix-2731</tspan><tspan x="3.5" y="30.4">ea:obj-type:</tspan><tspan x="41.5">auth-organization</tspan></text></g>

<g transform="translate(470,925)"><rect width="103" height="33" rx="2" class="w"/><text><tspan x="3.5" y="6">urn:</tspan><tspan x="41.5">oi:2757</tspan><tspan x="3.5" y="12.1">traverse:</tspan><tspan x="41.5">distance: [1]</tspan><tspan x="73.5">ordinal: 20</tspan><tspan x="3.5" y="18.2">title::</tspan><tspan x="41.5">Επιπλοποιείο Κυπαρίσση</tspan><tspan x="3.5" y="24.3">ea:identifier:ukey</tspan><tspan x="41.5">rg-opidix-2757</tspan><tspan x="3.5" y="30.4">ea:obj-type:</tspan><tspan x="41.5">auth-place</tspan></text></g>

<g transform="translate(472,963.8)"><rect width="101" height="33" rx="2" class="o"/><text><tspan x="3.5" y="6">urn:</tspan><tspan x="41.5">oi:2758</tspan><tspan x="3.5" y="12.1">traverse:</tspan><tspan x="41.5">distance: [1]</tspan><tspan x="73.5">ordinal: 3</tspan><tspan x="3.5" y="18.2">title::</tspan><tspan x="41.5">Καραΐσκος</tspan><tspan x="3.5" y="24.3">ea:identifier:ukey</tspan><tspan x="41.5">rg-opidix-2758</tspan><tspan x="3.5" y="30.4">ea:obj-type:</tspan><tspan x="41.5">auth-person</tspan></text></g>

<g transform="translate(467,1002.5)"><rect width="110" height="33" rx="2" class="w"/><text><tspan x="3.5" y="6">urn:</tspan><tspan x="41.5">oi:2766</tspan><tspan x="3.5" y="12.1">traverse:</tspan><tspan x="41.5">distance: [1]</tspan><tspan x="73.5">ordinal: 23</tspan><tspan x="3.5" y="18.2">title::</tspan><tspan x="41.5">Ιδιωτικό σχολείο "Μπαρμπίκα"</tspan><tspan x="3.5" y="24.3">ea:identifier:ukey</tspan><tspan x="41.5">rg-opidix-2766</tspan><tspan x="3.5" y="30.4">ea:obj-type:</tspan><tspan x="41.5">auth-organization</tspan></text></g>

<g transform="translate(470,1041.2)"><rect width="103" height="33" rx="2" class="w"/><text><tspan x="3.5" y="6">urn:</tspan><tspan x="41.5">oi:2768</tspan><tspan x="3.5" y="12.1">traverse:</tspan><tspan x="41.5">distance: [1]</tspan><tspan x="73.5">ordinal: 29</tspan><tspan x="3.5" y="18.2">title::</tspan><tspan x="41.5">Περιοδικό "Μικρός Ήρως"</tspan><tspan x="3.5" y="24.3">ea:identifier:ukey</tspan><tspan x="41.5">rg-opidix-2768</tspan><tspan x="3.5" y="30.4">ea:obj-type:</tspan><tspan x="41.5">periodic</tspan></text></g>

<g transform="translate(470,1080)"><rect width="103" height="33" rx="2" class="o"/><text><tspan x="3.5" y="6">urn:</tspan><tspan x="41.5">oi:2769</tspan><tspan x="3.5" y="12.1">traverse:</tspan><tspan x="41.5">distance: [1]</tspan><tspan x="73.5">ordinal: 33</tspan><tspan x="3.5" y="18.2">title::</tspan><tspan x="41.5">Πετίνης</tspan><tspan x="3.5" y="24.3">ea:identifier:ukey</tspan><tspan x="41.5">rg-opidix-2769</tspan><tspan x="3.5" y="30.4">ea:obj-type:</tspan><tspan x="41.5">auth-person</tspan></text></g>

<g transform="translate(470,1118.7)"><rect width="103" height="33" rx="2" class="w"/><text><tspan x="3.5" y="6">urn:</tspan><tspan x="41.5">oi:2774</tspan><tspan x="3.5" y="12.1">traverse:</tspan><tspan x="41.5">distance: [1]</tspan><tspan x="73.5">ordinal: 35</tspan><tspan x="3.5" y="18.2">title::</tspan><tspan x="41.5">Ψυχρός Πόλεμος</tspan><tspan x="3.5" y="24.3">ea:identifier:ukey</tspan><tspan x="41.5">rg-opidix-2774</tspan><tspan x="3.5" y="30.4">ea:obj-type:</tspan><tspan x="41.5">auth-event</tspan></text></g>

<g transform="translate(470,1157.4)"><rect width="103" height="33" rx="2" class="w"/><text><tspan x="3.5" y="6">urn:</tspan><tspan x="41.5">oi:2775</tspan><tspan x="3.5" y="12.1">traverse:</tspan><tspan x="41.5">distance: [1]</tspan><tspan x="73.5">ordinal: 38</tspan><tspan x="3.5" y="18.2">title::</tspan><tspan x="41.5">Μπακάλικο του Ταψή</tspan><tspan x="3.5" y="24.3">ea:identifier:ukey</tspan><tspan x="41.5">rg-opidix-2775</tspan><tspan x="3.5" y="30.4">ea:obj-type:</tspan><tspan x="41.5">auth-place</tspan></text></g>

<g transform="translate(912,1198.5)"><rect width="101" height="33" rx="2" class="o"/><text><tspan x="3.5" y="6">urn:</tspan><tspan x="41.5">oi:2782</tspan><tspan x="3.5" y="12.1">traverse:</tspan><tspan x="41.5">distance: [1]</tspan><tspan x="73.5">ordinal: 5</tspan><tspan x="3.5" y="18.2">title::</tspan><tspan x="41.5">Τσιλαρίνας</tspan><tspan x="3.5" y="24.3">ea:identifier:ukey</tspan><tspan x="41.5">rg-opidix-2782</tspan><tspan x="3.5" y="30.4">ea:obj-type:</tspan><tspan x="41.5">auth-person</tspan></text></g>

<g transform="translate(465.6,1225.5)"><rect width="112.4" height="33" rx="2" class="w"/><text><tspan x="3.5" y="6">urn:</tspan><tspan x="41.5">oi:2783</tspan><tspan x="3.5" y="12.1">traverse:</tspan><tspan x="41.5">distance: [1]</tspan><tspan x="73.5">ordinal: 6</tspan><tspan x="3.5" y="18.2">title::</tspan><tspan x="41.5">Πρακτορείο εφημερίδων Μπούφη</tspan><tspan x="3.5" y="24.3">ea:identifier:ukey</tspan><tspan x="41.5">rg-opidix-2783</tspan><tspan x="3.5" y="30.4">ea:obj-type:</tspan><tspan x="41.5">auth-place</tspan></text></g>

<g transform="translate(472,1264)"><rect width="99" height="33" rx="2" class="o"/><text><tspan x="3.5" y="6">urn:</tspan><tspan x="41.5">oi:2785</tspan><tspan x="3.5" y="12.1">traverse:</tspan><tspan x="41.5">distance: [1]</tspan><tspan x="73.5">ordinal: 7</tspan><tspan x="3.5" y="18.2">title::</tspan><tspan x="41.5">Στράτος</tspan><tspan x="3.5" y="24.3">ea:identifier:ukey</tspan><tspan x="41.5">rg-opidix-2785</tspan><tspan x="3.5" y="30.4">ea:obj-type:</tspan><tspan x="41.5">auth-person</tspan></text></g>

<text class="c" x="783" y="1331">root: 503 nodes count: 162</text>
</svg>
</body></html>
